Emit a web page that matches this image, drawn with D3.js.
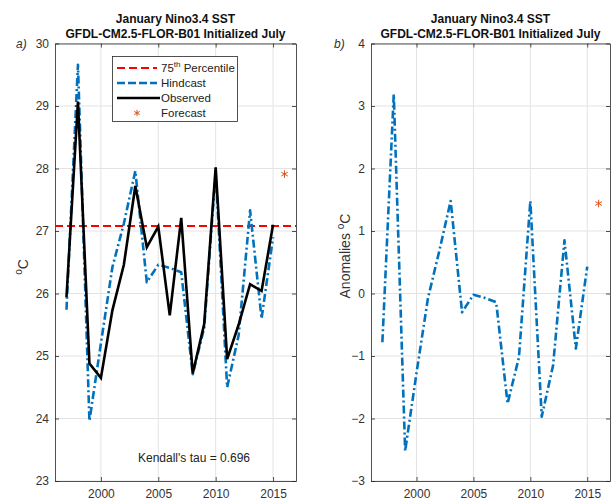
<!DOCTYPE html>
<html>
<head>
<meta charset="utf-8">
<script src="https://cdn.jsdelivr.net/npm/d3@7"></script>
<style>
  body { margin: 0; background: #fff; }
  svg { font-family: "Liberation Sans", Arial, sans-serif; }
  .tick text { fill: #333; font-size: 12px; }
</style>
</head>
<body>
<svg id="chart" width="611" height="500"></svg>
<script>
// values
const years = [1997, 1998, 1999, 2000, 2001, 2002, 2003, 2004, 2005, 2006,
               2007, 2008, 2009, 2010, 2011, 2012, 2013, 2014, 2015];
const observed = [25.94, 29.07, 24.88, 24.65, 25.73, 26.46, 27.72, 26.74, 27.07, 25.65,
                  27.21, 24.72, 25.51, 28.02, 24.95, 25.50, 26.15, 26.04, 27.10];
const hindcast = [25.74, 29.66, 23.96, 25.20, 26.42, 27.12, 27.96, 26.18, 26.46, 26.41,
                  26.34, 24.71, 25.45, 27.95, 24.50, 25.33, 27.33, 25.60, 26.90];
const anomalies = [-0.78, 3.19, -2.52, -1.27, -0.08, 0.68, 1.48, -0.30, -0.02, -0.07,
                   -0.14, -1.76, -1.02, 1.48, -1.97, -1.15, 0.85, -0.88, 0.43];
const forecastYear = 2016;
const forecastSST = 27.91;
const forecastAnom = 1.44;
const percentile75 = 27.08;
const kendallTau = 0.696;
const xTicks = [2000, 2005, 2010, 2015];
const yTicksSST = [23, 24, 25, 26, 27, 28, 29, 30];
const yTicksAnom = [-3, -2, -1, 0, 1, 2, 3, 4];
const titleLines = ["January Nino3.4 SST", "GFDL-CM2.5-FLOR-B01 Initialized July"];

const blue = "#0072BD", orange = "#D95319", red = "#FF0000", axisCol = "#262626";

const svg = d3.select("#chart");

function drawPanel(cfg) {
    let p = {};
    p.x = d3.scaleLinear().domain([1996, 2017]).range([cfg.left, cfg.right]);
    p.y = d3.scaleLinear().domain(cfg.yDomain).range([cfg.bottom, cfg.top]);
    let g = svg.append("g");
    p.g = g;

    // grid
    g.append("g").selectAll("line.gx")
        .data(xTicks).join("line")
        .attr("x1", d => p.x(d)).attr("x2", d => p.x(d))
        .attr("y1", cfg.top).attr("y2", cfg.bottom)
        .attr("stroke", "#e3e3e3").attr("stroke-width", 1);
    g.append("g").selectAll("line.gy")
        .data(cfg.yTicks).join("line")
        .attr("x1", cfg.left).attr("x2", cfg.right)
        .attr("y1", d => p.y(d)).attr("y2", d => p.y(d))
        .attr("stroke", "#e3e3e3").attr("stroke-width", 1);

    // axes (ticks inward, box on)
    let xAxis = d3.axisBottom(p.x).tickValues(xTicks).tickFormat(d3.format("d"))
        .tickSizeInner(-4).tickSizeOuter(0).tickPadding(8);
    let xAxisTop = d3.axisTop(p.x).tickValues(xTicks).tickFormat("")
        .tickSizeInner(-4).tickSizeOuter(0);
    let yAxis = d3.axisLeft(p.y).tickValues(cfg.yTicks).tickFormat(d3.format("d"))
        .tickSizeInner(-4).tickSizeOuter(0).tickPadding(6);
    let yAxisRight = d3.axisRight(p.y).tickValues(cfg.yTicks).tickFormat("")
        .tickSizeInner(-4).tickSizeOuter(0);

    [[xAxis, `translate(0,${cfg.bottom})`], [xAxisTop, `translate(0,${cfg.top})`],
     [yAxis, `translate(${cfg.left},0)`], [yAxisRight, `translate(${cfg.right},0)`]]
        .forEach(([ax, tr]) => {
            let a = g.append("g").attr("transform", tr).call(ax);
            a.selectAll("path, line").attr("stroke", axisCol).attr("stroke-width", 0.8);
            a.attr("font-family", null).attr("font-size", null);
        });

    // titles
    titleLines.forEach((t, i) => {
        g.append("text")
            .attr("x", (cfg.left + cfg.right) / 2).attr("y", 23 + i * 15)
            .attr("text-anchor", "middle").attr("font-weight", "bold")
            .attr("font-size", 12).attr("fill", "#111")
            .text(t);
    });

    // panel letter
    g.append("text")
        .attr("x", cfg.letterX).attr("y", 48)
        .attr("font-style", "italic").attr("font-size", 12).attr("fill", "#333")
        .text(cfg.letter);

    // y label
    let yl = g.append("text")
        .attr("transform", `translate(${cfg.ylabelX},${cfg.ylabelY}) rotate(-90)`)
        .attr("text-anchor", "middle").attr("font-size", 14).attr("fill", "#333");
    yl.append("tspan").text(cfg.ylabel);
    yl.append("tspan").attr("dy", -6).attr("font-size", 10).text("o");
    yl.append("tspan").attr("dy", 6).text("C");

    return p;
}

function hindLine(p, vals) {
    let line = d3.line().x((d, i) => p.x(years[i])).y(d => p.y(d));
    p.g.append("path")
        .attr("d", line(vals))
        .attr("fill", "none").attr("stroke", blue).attr("stroke-width", 2.6)
        .attr("stroke-dasharray", "8,3,2,3").attr("stroke-linejoin", "round");
}

function star(g, x, y, size) {
    g.append("path")
        .attr("transform", `translate(${x},${y})`)
        .attr("d", d3.symbol(d3.symbolAsterisk, size)())
        .attr("fill", "none").attr("stroke", orange).attr("stroke-width", 1);
}

// ---- panel a ----
const pa = drawPanel({
    left: 55, right: 296, top: 43.5, bottom: 481,
    yDomain: [23, 30], yTicks: yTicksSST,
    letter: "a)", letterX: 16, ylabel: "", ylabelX: 28, ylabelY: 267
});

pa.g.append("line")
    .attr("x1", pa.x(1996)).attr("x2", pa.x(2017))
    .attr("y1", pa.y(percentile75)).attr("y2", pa.y(percentile75))
    .attr("stroke", red).attr("stroke-width", 2)
    .attr("stroke-dasharray", "8,4");

hindLine(pa, hindcast);

pa.g.append("path")
    .attr("d", d3.line().x((d, i) => pa.x(years[i])).y(d => pa.y(d))(observed))
    .attr("fill", "none").attr("stroke", "#000").attr("stroke-width", 2.6)
    .attr("stroke-linejoin", "miter");

star(pa.g, pa.x(forecastYear), pa.y(forecastSST), 40);

pa.g.append("text")
    .attr("x", 194).attr("y", 462)
    .attr("text-anchor", "middle").attr("font-size", 12).attr("fill", "#222")
    .text(`Kendall's tau = ${kendallTau}`);

// legend
const lg = pa.g.append("g");
lg.append("rect")
    .attr("x", 112.5).attr("y", 56.5).attr("width", 125).attr("height", 65)
    .attr("fill", "#fff").attr("stroke", axisCol).attr("stroke-width", 0.8);
const legendRows = [68, 83, 98, 113];
lg.append("line").attr("x1", 117).attr("x2", 157).attr("y1", legendRows[0]).attr("y2", legendRows[0])
    .attr("stroke", red).attr("stroke-width", 2).attr("stroke-dasharray", "8,4");
lg.append("line").attr("x1", 117).attr("x2", 157).attr("y1", legendRows[1]).attr("y2", legendRows[1])
    .attr("stroke", blue).attr("stroke-width", 2.6).attr("stroke-dasharray", "8,3");
lg.append("line").attr("x1", 117).attr("x2", 160).attr("y1", legendRows[2]).attr("y2", legendRows[2])
    .attr("stroke", "#000").attr("stroke-width", 2.6);
star(lg, 137, legendRows[3], 28);

const lt = lg.append("text").attr("x", 161).attr("y", legendRows[0] + 4)
    .attr("font-size", 11.5).attr("fill", "#222");
lt.append("tspan").text("75");
lt.append("tspan").attr("dy", -5).attr("font-size", 8).text("th");
lt.append("tspan").attr("dy", 5).text(" Percentile");
["Hindcast", "Observed", "Forecast"].forEach((t, i) => {
    lg.append("text").attr("x", 161).attr("y", legendRows[i + 1] + 4)
        .attr("font-size", 11.5).attr("fill", "#222").text(t);
});

// ---- panel b ----
const pb = drawPanel({
    left: 371, right: 610, top: 43.5, bottom: 481,
    yDomain: [-3, 4], yTicks: yTicksAnom,
    letter: "b)", letterX: 334, ylabel: "Anomalies ", ylabelX: 350, ylabelY: 256
});

hindLine(pb, anomalies);
star(pb.g, pb.x(forecastYear), pb.y(forecastAnom), 40);
</script>
</body>
</html>
